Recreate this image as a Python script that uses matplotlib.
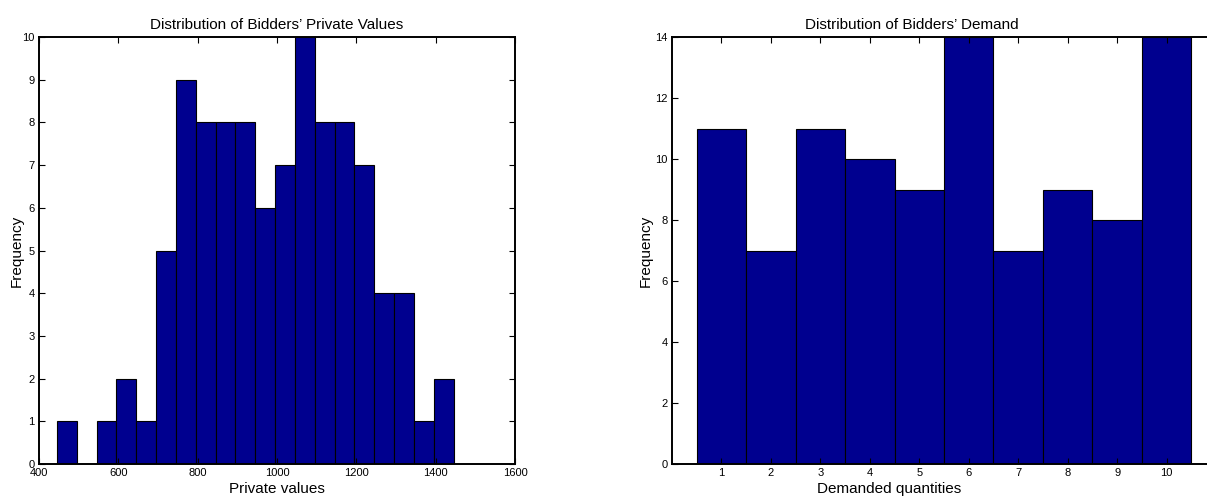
import numpy as np
import matplotlib
matplotlib.use("Agg")
import matplotlib.pyplot as plt

plt.rcParams['font.family'] = ['Liberation Sans', 'DejaVu Sans']

# left histogram: private values, 20 bins of width 50 starting at 445
value_bin_start = 445
value_bin_width = 50
value_counts = [1, 0, 1, 2, 1, 5, 9, 8, 8, 8, 6, 7, 10, 8, 8, 7, 4, 4, 1, 2]

# right histogram: demanded quantities 1..10
quantities = [1, 2, 3, 4, 5, 6, 7, 8, 9, 10]
quantity_counts = [11, 7, 11, 10, 9, 14, 7, 9, 8, 14]

bar_color = '#00008F'

fig = plt.figure(figsize=(12.07, 5.01), dpi=100)

def style_axes(ax):
    ax.tick_params(direction='in', length=4, width=0.8, labelsize=8,
                   top=True, right=True, pad=3)
    for s in ax.spines.values():
        s.set_linewidth(1.4)

# Left panel
ax1 = fig.add_axes([39 / 1207, 37 / 501, 476 / 1207, 427 / 501])
edges = value_bin_start + value_bin_width * np.arange(len(value_counts) + 1)
ax1.bar(edges[:-1], value_counts, width=value_bin_width, align='edge',
        color=bar_color, edgecolor='black', linewidth=0.8)
ax1.set_xlim(400, 1600)
ax1.set_ylim(0, 10)
ax1.set_xticks(np.arange(400, 1601, 200))
ax1.set_yticks(np.arange(0, 11, 1))
ax1.set_title("Distribution of Bidders\u2019 Private Values", fontsize=11, pad=6)
ax1.set_xlabel("Private values", fontsize=11, labelpad=3)
ax1.set_ylabel("Frequency", fontsize=11, labelpad=-1)
style_axes(ax1)

# Right panel (extends past the right edge of the figure)
ax2 = fig.add_axes([672 / 1207, 37 / 501, 544 / 1207, 427 / 501])
ax2.bar(quantities, quantity_counts, width=1.0,
        color=bar_color, edgecolor='black', linewidth=0.8)
ax2.set_xlim(0, 11)
ax2.set_ylim(0, 14)
ax2.set_xticks(quantities)
ax2.set_yticks(np.arange(0, 15, 2))
ax2.set_title("Distribution of Bidders\u2019 Demand", fontsize=11, pad=6, x=0.44)
ax2.set_xlabel("Demanded quantities", fontsize=11)
ax2.xaxis.set_label_coords(0.40, -0.042)
ax2.set_ylabel("Frequency", fontsize=11, labelpad=1.5)
style_axes(ax2)

fig.savefig("out.png", dpi=100)
